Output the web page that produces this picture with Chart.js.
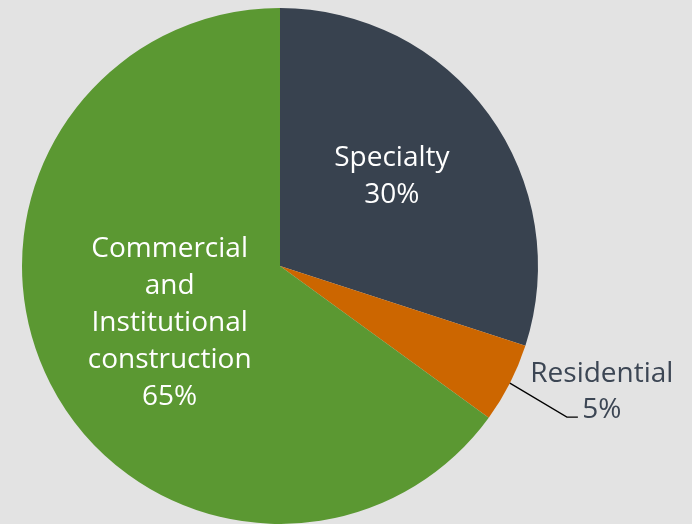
<!DOCTYPE html>
<html>
<head>
<meta charset="utf-8">
<script src="https://cdn.jsdelivr.net/npm/chart.js@4/dist/chart.umd.min.js"></script>
<style>
  html, body { margin: 0; padding: 0; background: #e3e3e3; }
  #wrap { width: 692px; height: 524px; }
</style>
</head>
<body>
<div id="wrap"><canvas id="pie"></canvas></div>
<script>
const categories = ['Specialty', 'Residential', 'Commercial and Institutional construction'];
const labelLines = [['Specialty'], ['Residential'], ['Commercial', 'and', 'Institutional', 'construction']];
const values = [30, 5, 65];
const sliceColors = ['#38424f', '#cc6600', '#5b9832'];

// label placement: fraction of radius along the slice middle (null = outside with leader), plus a small nudge
const labelRadius = [0.56, null, 0.48];
const labelNudge = [[-5, -5], [0, 0], [0, 1]];

const labelPlugin = {
  id: 'sliceLabels',
  afterDatasetsDraw(chart) {
    const ctx = chart.ctx;
    const meta = chart.getDatasetMeta(0);
    const total = values.reduce((a, b) => a + b, 0);
    ctx.save();
    ctx.font = '28px "Open Sans", sans-serif';
    ctx.textAlign = 'center';
    ctx.textBaseline = 'middle';
    meta.data.forEach((arc, i) => {
      const mid = (arc.startAngle + arc.endAngle) / 2;
      const dx = Math.cos(mid), dy = Math.sin(mid);
      const lines = labelLines[i].concat([Math.round(values[i] / total * 100) + '%']);
      if (labelRadius[i] !== null) {
        const r = arc.outerRadius * labelRadius[i];
        const cx = arc.x + dx * r + labelNudge[i][0], cy = arc.y + dy * r + labelNudge[i][1];
        const lh = 37;
        ctx.fillStyle = '#ffffff';
        lines.forEach((t, k) => {
          ctx.fillText(t, cx, cy + (k - (lines.length - 1) / 2) * lh);
        });
      } else {
        const sx = arc.x + dx * arc.outerRadius, sy = arc.y + dy * arc.outerRadius;
        const ex = sx + 57, ey = sy + 34;
        ctx.strokeStyle = '#000000';
        ctx.lineWidth = 1.3;
        ctx.beginPath();
        ctx.moveTo(sx, sy);
        ctx.lineTo(ex, ey);
        ctx.lineTo(ex + 11, ey);
        ctx.stroke();
        ctx.fillStyle = '#3c4654';
        const tx = ex + 35, ty = ey - 25;
        lines.forEach((t, k) => {
          ctx.fillText(t, tx, ty + (k - (lines.length - 1) / 2) * 36);
        });
      }
    });
    ctx.restore();
  }
};

new Chart(document.getElementById('pie'), {
  type: 'pie',
  data: {
    labels: categories,
    datasets: [{
      data: values,
      backgroundColor: sliceColors,
      borderWidth: 0
    }]
  },
  options: {
    responsive: true,
    maintainAspectRatio: false,
    animation: false,
    layout: { padding: { left: 22, right: 154, top: 8, bottom: 0 } },
    plugins: {
      legend: { display: false },
      tooltip: { enabled: false }
    }
  },
  plugins: [labelPlugin]
});
</script>
</body>
</html>
